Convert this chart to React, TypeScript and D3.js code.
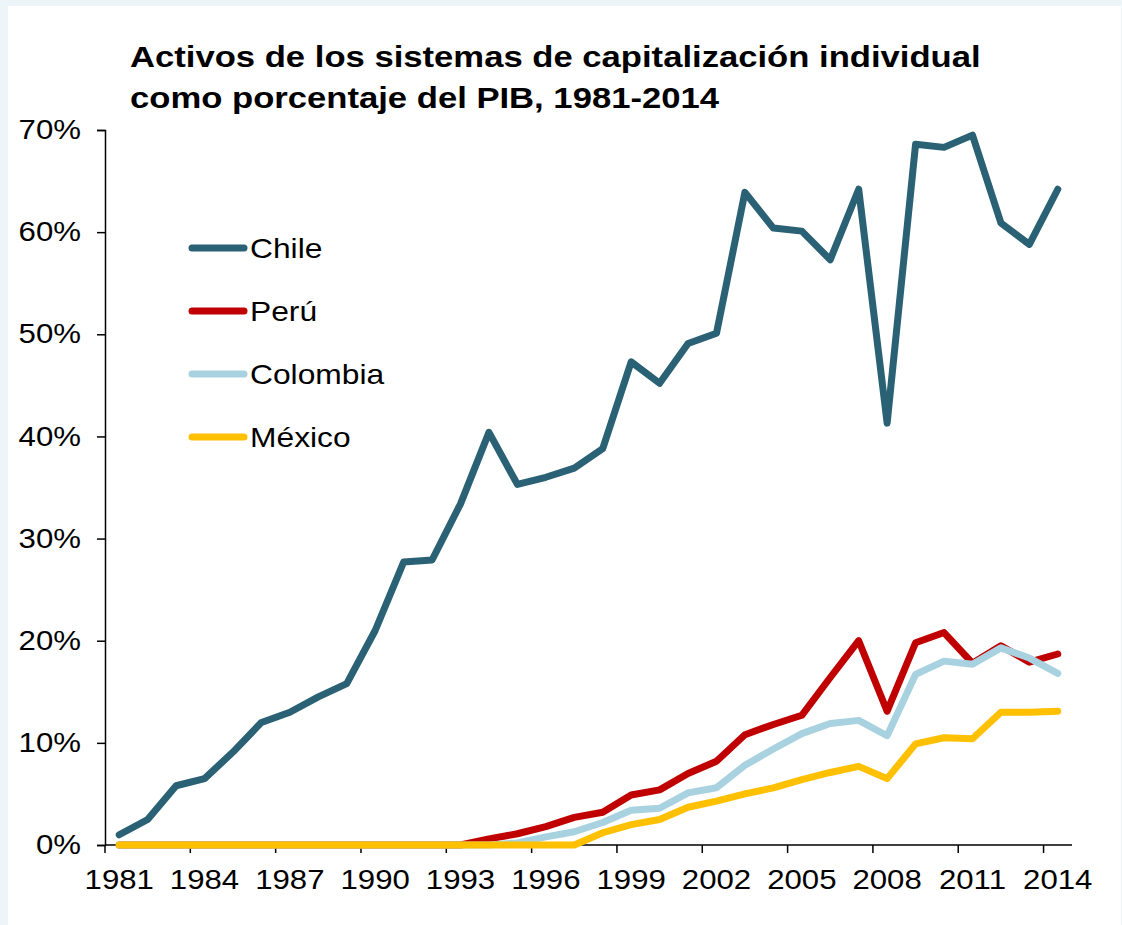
import * as d3 from 'd3'
import { useEffect, useRef } from 'react';

// años y series (porcentaje del PIB)
const years = d3.range(1981, 2015);
const chile = [1.0, 2.5, 5.8, 6.5, 9.1, 12.0, 13.0, 14.5, 15.8, 21.0, 27.7, 27.9, 33.4, 40.4, 35.3, 36.0, 36.9, 38.8,
    47.3, 45.2, 49.1, 50.1, 63.9, 60.4, 60.1, 57.3, 64.2, 41.3, 68.6, 68.3, 69.5, 60.9, 58.8, 64.2];
const peru = [0, 0, 0, 0, 0, 0, 0, 0, 0, 0, 0, 0, 0, 0.6, 1.1, 1.8, 2.7, 3.2,
    4.9, 5.4, 7.0, 8.2, 10.8, 11.8, 12.7, 16.4, 20.0, 13.1, 19.8, 20.8, 17.8, 19.5, 17.9, 18.7];
const colombia = [0, 0, 0, 0, 0, 0, 0, 0, 0, 0, 0, 0, 0, 0, 0.2, 0.8, 1.3, 2.2,
    3.4, 3.6, 5.1, 5.6, 7.8, 9.4, 10.9, 11.9, 12.2, 10.7, 16.7, 18.0, 17.7, 19.3, 18.3, 16.8];
const mexico = [0, 0, 0, 0, 0, 0, 0, 0, 0, 0, 0, 0, 0, 0, 0, 0, 0, 1.2,
    2.0, 2.5, 3.7, 4.3, 5.0, 5.6, 6.4, 7.1, 7.7, 6.5, 9.9, 10.5, 10.4, 13.0, 13.0, 13.1];
const seriesNames = ["Chile", "Perú", "Colombia", "México"];
const seriesColors = ["#2a6174", "#c00000", "#a8d2e0", "#ffc000"];
const yTicks = [0, 10, 20, 30, 40, 50, 60, 70];
const titleLines = ["Activos de los sistemas de capitalización individual", "como porcentaje del PIB, 1981-2014"];

const FONT = "'Liberation Sans', Arial, sans-serif";
const SX = 1.155;  // el texto del original está algo ensanchado

function makeChart(svgEl: SVGSVGElement) {
    const svg = d3.select(svgEl);
    svg.selectAll("*").remove();

    // fondo
    svg.append("rect").attr("width", 1122).attr("height", 925).attr("fill", "#eef5f8");
    svg.append("rect").attr("x", 8).attr("y", 6).attr("width", 1113).attr("height", 925).attr("fill", "#ffffff");

    const x = d3.scaleBand<number>().domain(years).range([105, 1072]).padding(0);
    const y = d3.scaleLinear().domain([0, 70]).range([845, 130]);
    const cx = (yr: number) => (x(yr) as number) + x.bandwidth() / 2;

    // título
    svg.append("g").selectAll("text").data(titleLines).join("text")
        .attr("transform", (d, i) => `translate(130,${67 + i * 41}) scale(${SX},1)`)
        .attr("font-family", FONT).attr("font-weight", "bold").attr("font-size", 30)
        .attr("fill", "#000").text(d => d);

    // eje Y
    const gy = svg.append("g").attr("transform", "translate(105,0)")
        .call(d3.axisLeft(y).tickValues(yTicks).tickSize(8).tickFormat(d => d + "%"));
    gy.select(".domain").attr("stroke-width", 1.5);
    gy.selectAll(".tick line").attr("stroke-width", 1.5);
    gy.selectAll(".tick text")
        .attr("x", null).attr("transform", `translate(-24,0) scale(${SX},1)`)
        .attr("font-family", FONT).attr("font-size", 27).attr("fill", "#000");

    // eje X: marcas entre categorías, etiquetas cada 3 años
    const gx = svg.append("g");
    gx.append("line").attr("x1", 105).attr("x2", 1072).attr("y1", 845).attr("y2", 845)
        .attr("stroke", "#000").attr("stroke-width", 1.5);
    const labYears = years.filter((d, i) => i % 3 == 0);
    gx.selectAll("line.tk").data(labYears).join("line").attr("class", "tk")
        .attr("x1", d => x(d) as number).attr("x2", d => x(d) as number)
        .attr("y1", 845).attr("y2", 853).attr("stroke", "#000").attr("stroke-width", 1.5);
    gx.selectAll("text").data(labYears).join("text")
        .attr("transform", d => `translate(${cx(d)},889) scale(${SX},1)`).attr("text-anchor", "middle")
        .attr("font-family", FONT).attr("font-size", 27).attr("fill", "#000").text(d => d);

    // líneas
    const data = [chile, peru, colombia, mexico];
    const line = d3.line<number>().x((d, i) => cx(years[i])).y(d => y(d));
    svg.append("g").selectAll("path").data(data).join("path")
        .attr("d", d => line(d)).attr("fill", "none")
        .attr("stroke", (d, i) => seriesColors[i]).attr("stroke-width", 7)
        .attr("stroke-linejoin", "round").attr("stroke-linecap", "round");

    // leyenda
    const lg = svg.append("g").selectAll("g").data(seriesNames).join("g")
        .attr("transform", (d, i) => `translate(0,${248 + i * 63})`);
    lg.append("line").attr("x1", 192).attr("x2", 244).attr("y1", 0).attr("y2", 0)
        .attr("stroke", (d, i) => seriesColors[i]).attr("stroke-width", 7).attr("stroke-linecap", "round");
    lg.append("text").attr("transform", `translate(250,10) scale(${SX - 0.02},1)`)
        .attr("font-family", FONT).attr("font-size", 28).attr("fill", "#000").text(d => d);
}

function App() {
    const ref = useRef<SVGSVGElement>(null);
    useEffect(() => {
        if (ref.current) makeChart(ref.current);
    });

    return (
        <div style={{ position: "absolute", left: 0, top: 0 }}>
            <svg ref={ref} width={1122} height={925} style={{ display: "block" }}></svg>
        </div>
    );
}

export default App;
